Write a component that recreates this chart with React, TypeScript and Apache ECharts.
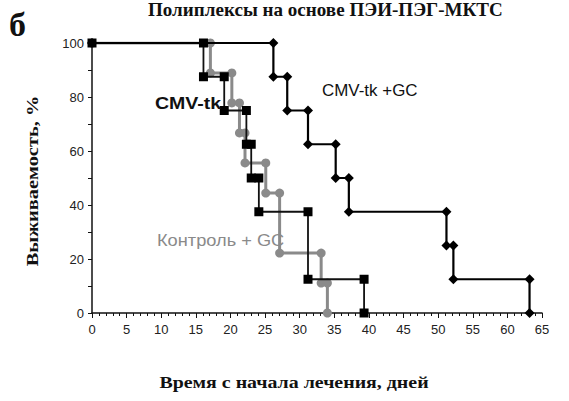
import React, { useEffect, useRef } from "react";
import * as echarts from "echarts";

// Kaplan–Meier survival: day of each event and survival (%) after it
const cmvTkGcDays = [26.2, 28.2, 31.2, 35.2, 37.1, 51.2, 52.2, 63.2];
const cmvTkGcSurvival = [87.5, 75, 62.5, 50, 37.5, 25, 12.5, 0];

const cmvTkDays = [16.1, 19.1, 22.3, 23.0, 24.1, 31.2, 39.3];
const cmvTkSurvival = [87.5, 75, 62.5, 50, 37.5, 12.5, 0];

const controlGcDays = [17.1, 20.2, 21.3, 22.1, 25.1, 27.1, 33.1, 34.0];
const controlGcSurvival = [88.9, 77.8, 66.7, 55.6, 44.4, 22.2, 11.1, 0];

const xTicks = [0, 5, 10, 15, 20, 25, 30, 35, 40, 45, 50, 55, 60, 65];
const yTicks = [0, 20, 40, 60, 80, 100];

// Build the step outline: horizontal run to each event, then a vertical drop
function stepPoints(days: number[], survival: number[]): number[][] {
  const pts: number[][] = [[0, 100]];
  let prev = 100;
  days.forEach((d, i) => {
    pts.push([d, prev]);
    pts.push([d, survival[i]]);
    prev = survival[i];
  });
  return pts;
}

const serif = "'Liberation Serif', 'DejaVu Serif', serif";
const sans = "'Liberation Sans', Arial, sans-serif";

export default function App() {
  const ref = useRef<HTMLDivElement>(null);

  useEffect(() => {
    if (!ref.current) return;
    const chart = echarts.init(ref.current, undefined, { renderer: "svg" });
    chart.setOption({
      animation: false,
      backgroundColor: "#ffffff",
      grid: { left: 92, right: 27, top: 43, bottom: 88, containLabel: false },
      xAxis: {
        type: "value",
        min: xTicks[0],
        max: xTicks[xTicks.length - 1],
        interval: 5,
        axisLine: { show: true, lineStyle: { color: "#111", width: 1.5 } },
        axisTick: { show: true, inside: false, length: 5, lineStyle: { color: "#111" } },
        minorTick: { show: true, splitNumber: 5, length: 3, lineStyle: { color: "#111" } },
        splitLine: { show: false },
        axisLabel: { color: "#222", fontFamily: sans, fontSize: 13, margin: 10 },
      },
      yAxis: {
        type: "value",
        min: yTicks[0],
        max: yTicks[yTicks.length - 1],
        interval: 20,
        axisLine: { show: true, lineStyle: { color: "#111", width: 1.5 } },
        axisTick: { show: true, length: 4, lineStyle: { color: "#111" } },
        minorTick: { show: true, splitNumber: 2, length: 4, lineStyle: { color: "#111" } },
        splitLine: { show: false },
        axisLabel: { color: "#222", fontFamily: sans, fontSize: 13, margin: 8 },
      },
      series: [
        {
          type: "line",
          name: "Контроль + GC",
          data: stepPoints(controlGcDays, controlGcSurvival),
          symbol: "circle",
          symbolSize: 9,
          lineStyle: { color: "#8a8a8a", width: 3 },
          itemStyle: { color: "#8a8a8a" },
          z: 2,
        },
        {
          type: "line",
          name: "CMV-tk",
          data: stepPoints(cmvTkDays, cmvTkSurvival),
          symbol: "rect",
          symbolSize: 9,
          lineStyle: { color: "#111", width: 1.8 },
          itemStyle: { color: "#000" },
          z: 3,
        },
        {
          type: "line",
          name: "CMV-tk +GC",
          data: stepPoints(cmvTkGcDays, cmvTkGcSurvival),
          symbol: "diamond",
          symbolSize: 10,
          lineStyle: { color: "#000", width: 2.2 },
          itemStyle: { color: "#000" },
          z: 4,
        },
      ],
      graphic: [
        {
          type: "text",
          x: 148,
          y: 1,
          scaleX: 1.06,
          style: {
            text: "Полиплексы на основе ПЭИ-ПЭГ-МКТС",
            font: `bold 18px ${serif}`,
            fill: "#111",
            verticalAlign: "top",
          },
        },
        {
          type: "text",
          x: 9,
          y: 7,
          style: { text: "б", font: `bold 34px ${serif}`, fill: "#111", verticalAlign: "top" },
        },
        {
          type: "text",
          x: 32,
          y: 181,
          rotation: Math.PI / 2,
          scaleX: 1.2,
          style: {
            text: "Выживаемость, %",
            font: `bold 17px ${serif}`,
            fill: "#111",
            align: "center",
            verticalAlign: "middle",
          },
        },
        {
          type: "text",
          x: 294,
          y: 382,
          scaleX: 1.17,
          style: {
            text: "Время с начала лечения, дней",
            font: `bold 17px ${serif}`,
            fill: "#111",
            align: "center",
            verticalAlign: "middle",
          },
        },
        {
          type: "text",
          x: 155,
          y: 103,
          z: 10,
          scaleX: 1.15,
          style: {
            text: "CMV-tk",
            font: `bold 17px ${sans}`,
            fill: "#111",
            verticalAlign: "middle",
          },
        },
        {
          type: "text",
          x: 322,
          y: 90,
          z: 10,
          scaleX: 1.06,
          style: {
            text: "CMV-tk +GC",
            font: `16px ${sans}`,
            fill: "#111",
            verticalAlign: "middle",
          },
        },
        {
          type: "text",
          x: 157,
          y: 240,
          z: 10,
          scaleX: 1.14,
          style: {
            text: "Контроль + GC",
            font: `16px ${sans}`,
            fill: "#8a8a8a",
            verticalAlign: "middle",
          },
        },
      ],
    });
    return () => chart.dispose();
  }, []);

  return <div ref={ref} style={{ width: 569, height: 401, position: "absolute", left: 0, top: 0 }} />;
}
